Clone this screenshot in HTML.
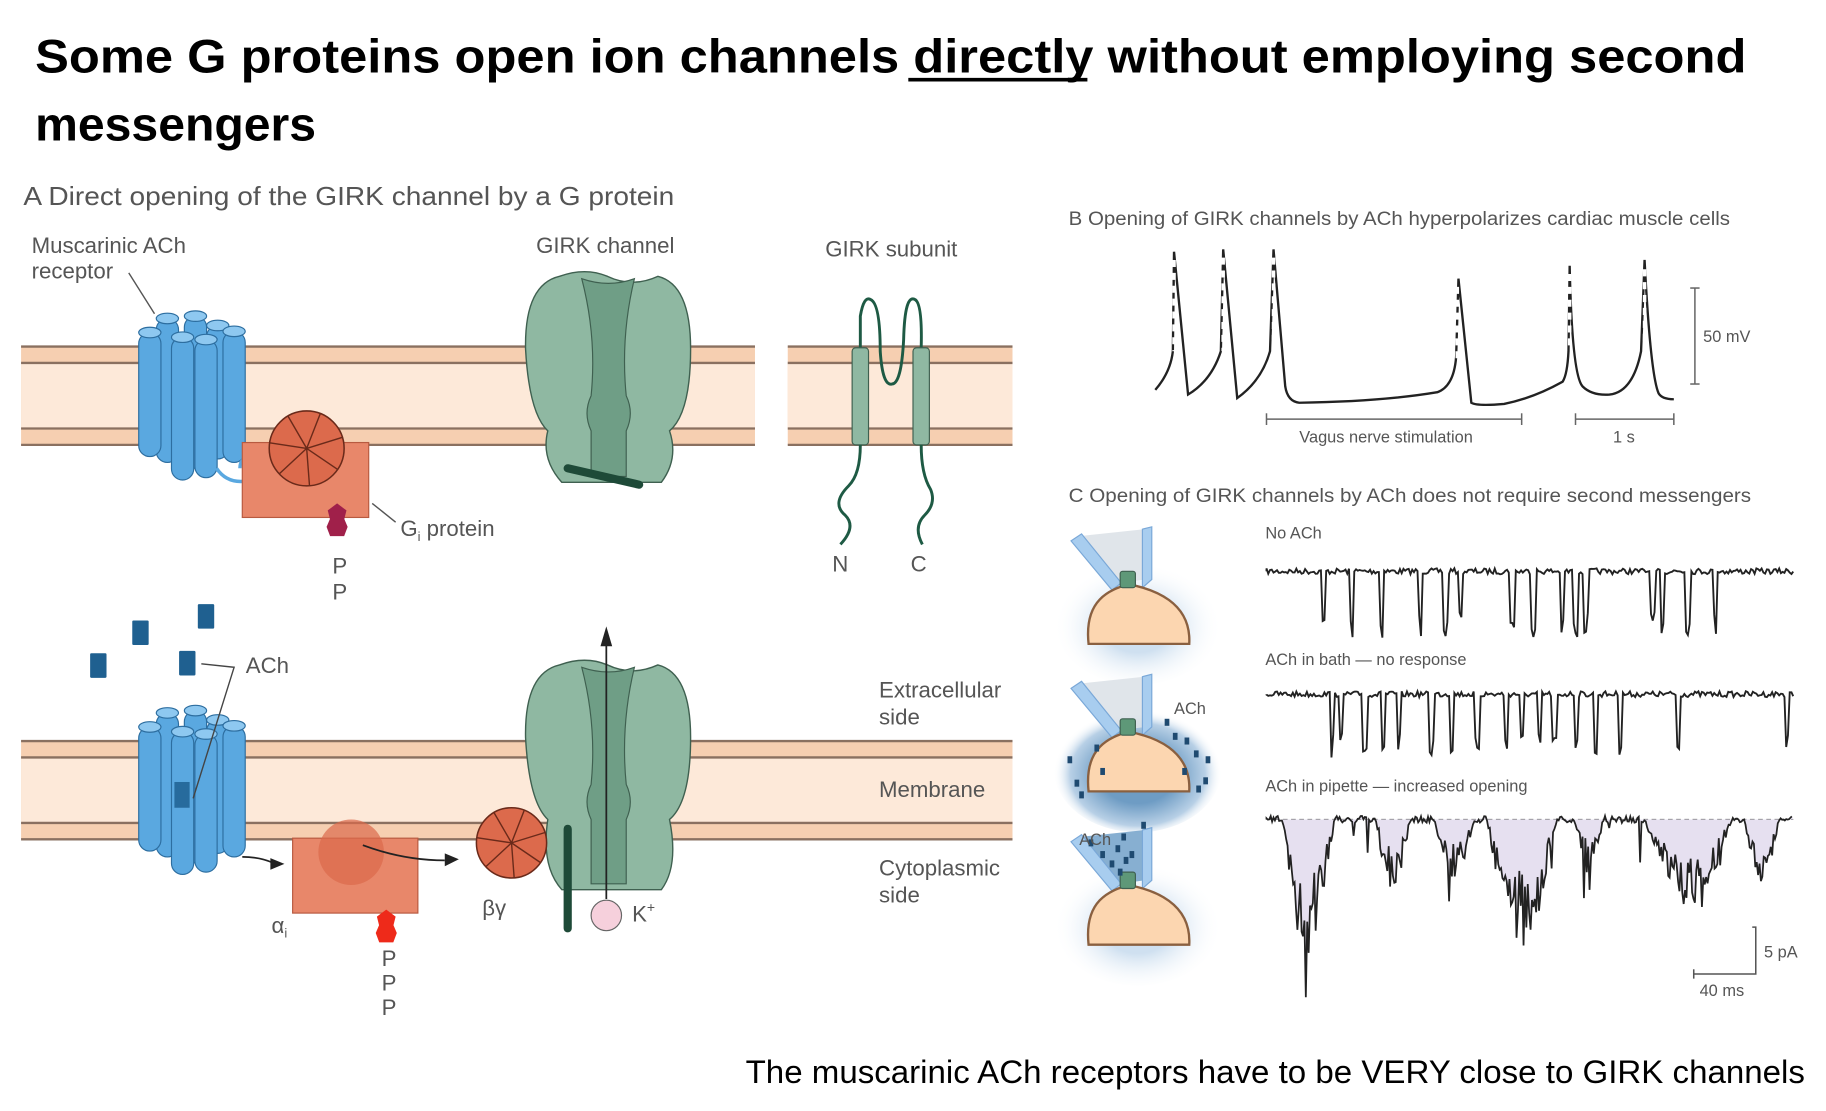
<!DOCTYPE html>
<html><head><meta charset="utf-8"><style>
html,body{margin:0;padding:0;background:#fff;}
svg{display:block;}
.t{font-family:"Liberation Sans",sans-serif;fill:#555;}
</style></head><body>
<svg id="s" width="1826" height="1111" viewBox="0 0 1560 949" xmlns="http://www.w3.org/2000/svg">
<defs>
<radialGradient id="halo" cx="50%" cy="55%" r="50%"><stop offset="0.4" stop-color="#cfe0f0"/><stop offset="1" stop-color="#ffffff" stop-opacity="0"/></radialGradient>
<radialGradient id="halo2" cx="50%" cy="55%" r="50%"><stop offset="0.45" stop-color="#6e9cc4"/><stop offset="0.8" stop-color="#b8d0e6"/><stop offset="1" stop-color="#ffffff" stop-opacity="0"/></radialGradient>
</defs>
<text x="30" y="62" font-family="Liberation Sans,sans-serif" font-weight="bold" font-size="40" fill="#000" textLength="1462" lengthAdjust="spacingAndGlyphs">Some G proteins open ion channels directly without employing second</text>
<line x1="776" y1="68" x2="929" y2="68" stroke="#000" stroke-width="3"/>
<text x="30" y="120" font-family="Liberation Sans,sans-serif" font-weight="bold" font-size="40" fill="#000" textLength="240" lengthAdjust="spacingAndGlyphs">messengers</text>

<text class="t" x="20" y="175" font-size="22" textLength="556" lengthAdjust="spacingAndGlyphs">A  Direct opening of the GIRK channel by a G protein</text>

<g id="mem"></g>
<g id="art"></g>

<g class="t" font-size="19">
<text x="27" y="216">Muscarinic ACh</text>
<text x="27" y="238">receptor</text>
<text x="458" y="216">GIRK channel</text>
<text x="705" y="219">GIRK subunit</text>
<text x="342" y="458">G<tspan font-size="11" dy="4">i</tspan><tspan dy="-4"> protein</tspan></text>
<text x="284" y="490">P</text><text x="284" y="512">P</text>
<text x="711" y="488">N</text><text x="778" y="488">C</text>
<text x="210" y="575">ACh</text>
<text x="751" y="596">Extracellular</text><text x="751" y="619">side</text>
<text x="751" y="681">Membrane</text>
<text x="751" y="748">Cytoplasmic</text><text x="751" y="771">side</text>
<text x="232" y="797">α<tspan font-size="11" dy="4">i</tspan></text>
<text x="412" y="782">βγ</text>
<text x="540" y="787">K<tspan font-size="12" dy="-8">+</tspan></text>
<text x="326" y="825">P</text><text x="326" y="846">P</text><text x="326" y="867">P</text>
</g>
<line x1="110" y1="233" x2="132" y2="268" stroke="#555" stroke-width="1.2"/>
<line x1="318" y1="430" x2="338" y2="446" stroke="#555" stroke-width="1.2"/>
<polyline points="172,567 200,570 165,682" fill="none" stroke="#444" stroke-width="1.2"/>

<text class="t" x="913" y="192" font-size="16.5" textLength="565" lengthAdjust="spacingAndGlyphs">B  Opening of GIRK channels by ACh hyperpolarizes cardiac muscle cells</text>
<path d="M987,333 Q1000,318 1002,300 L1003,215 L1015,337 Q1035,325 1043,300 L1045,213 L1057,340 Q1078,325 1085,300 L1088,213 L1098,330 Q1100,343 1110,344 Q1180,343 1228,335 Q1242,330 1244,305 L1246,238 L1257,344 Q1262,347 1285,345 Q1310,340 1335,326 Q1339,320 1340,300 L1341,227 Q1343,320 1352,330 Q1360,338 1375,337 Q1395,335 1402,300 L1405,222 Q1410,320 1417,336 Q1420,341 1430,341" fill="none" stroke="#222" stroke-width="2"/>
<g stroke="#fff" stroke-width="3" stroke-dasharray="6 5">
<line x1="1003" y1="222" x2="1003" y2="300"/><line x1="1045" y1="220" x2="1045" y2="300"/><line x1="1088" y1="220" x2="1088" y2="290"/><line x1="1245" y1="245" x2="1245" y2="310"/><line x1="1341" y1="234" x2="1341" y2="300"/><line x1="1405" y1="230" x2="1405" y2="300"/>
</g>
<g stroke="#666" stroke-width="1.3">
<line x1="1448" y1="246" x2="1448" y2="328"/><line x1="1444" y1="246" x2="1452" y2="246"/><line x1="1444" y1="328" x2="1452" y2="328"/>
<line x1="1082" y1="358" x2="1300" y2="358"/><line x1="1082" y1="353" x2="1082" y2="363"/><line x1="1300" y1="353" x2="1300" y2="363"/>
<line x1="1346" y1="358" x2="1430" y2="358"/><line x1="1346" y1="353" x2="1346" y2="363"/><line x1="1430" y1="353" x2="1430" y2="363"/>
</g>
<g class="t" font-size="14">
<text x="1455" y="292">50 mV</text>
<text x="1110" y="378">Vagus nerve stimulation</text>
<text x="1378" y="378">1 s</text>
</g>

<text class="t" x="913" y="429" font-size="16.5" textLength="583" lengthAdjust="spacingAndGlyphs">C  Opening of GIRK channels by ACh does not require second messengers</text>
<g id="cells"></g>
<g class="t" font-size="14">
<text x="1081" y="460">No ACh</text>
<text x="1081" y="568">ACh in bath — no response</text>
<text x="1081" y="676">ACh in pipette — increased opening</text>
<text x="1003" y="610">ACh</text>
<text x="922" y="722">ACh</text>
<text x="1507" y="818">5 pA</text>
<text x="1452" y="851">40 ms</text>
</g>
<g stroke="#555" stroke-width="1.3" fill="none"><polyline points="1497,792 1500,792 1500,832 1447,832"/><line x1="1447" y1="828" x2="1447" y2="836"/></g>
<g id="traces"></g>

<text x="637" y="925" font-family="Liberation Sans,sans-serif" font-size="28" fill="#000" textLength="905" lengthAdjust="spacingAndGlyphs">The muscarinic ACh receptors have to be VERY close to GIRK channels</text>
</svg>
<script>
var NS="http://www.w3.org/2000/svg";
function el(p,t,a){var e=document.createElementNS(NS,t);for(var k in a)e.setAttribute(k,a[k]);document.getElementById(p).appendChild(e);return e;}
function mem(x1,x2,y){
 el('mem','rect',{x:x1,y:y,width:x2-x1,height:84,fill:'#f6cfb1'});
 el('mem','rect',{x:x1,y:y+14,width:x2-x1,height:56,fill:'#fde9d9'});
 [y,y+14,y+70,y+84].forEach(function(yy){el('mem','line',{x1:x1,x2:x2,y1:yy,y2:yy,stroke:'#8a7060','stroke-width':2});});
}
mem(18,645,296);mem(673,865,296);mem(18,865,633);
var A='art';
function cyl(x,yt,yb,w){
 el(A,'rect',{x:x-w/2,y:yt,width:w,height:yb-yt,rx:w/2,fill:'#5aa8e0',stroke:'#2d6ea0','stroke-width':1});
 el(A,'ellipse',{cx:x,cy:yt,rx:w/2,ry:4.5,fill:'#8ec8f0',stroke:'#2d6ea0','stroke-width':1});
}
function receptor(dy){
 [[143,272,395],[167,270,400],[186,278,392],[128,284,390],[200,283,395],[156,288,410],[176,290,408]].forEach(function(c){cyl(c[0],c[1]+dy,c[2]+dy,19);});
}
receptor(0);
el(A,'path',{d:'M185,400 Q195,415 215,410 Q230,400 215,392 Q205,390 205,400',fill:'none',stroke:'#5aa8e0','stroke-width':3});
el(A,'rect',{x:207,y:378,width:108,height:64,fill:'#e8876a',stroke:'#b85a40','stroke-width':1});
function wheel(cx,cy,r){
 el(A,'circle',{cx:cx,cy:cy,r:r,fill:'#dc6a4c',stroke:'#6a2a1a','stroke-width':1.3});
 for(var i=0;i<7;i++){var a=i*2*Math.PI/7-0.3;el(A,'line',{x1:cx,y1:cy,x2:cx+r*Math.cos(a),y2:cy+r*Math.sin(a),stroke:'#6a2a1a','stroke-width':1.2});}
}
wheel(262,383,32);
function hexs(cx,y,col){
 el(A,'polygon',{points:[cx,y,cx+8,y+6,cx+6,y+14,cx-6,y+14,cx-8,y+6].join(','),fill:col});
 el(A,'polygon',{points:[cx-6,y+13,cx+6,y+13,cx+9,y+20,cx+6,y+28,cx-6,y+28,cx-9,y+20].join(','),fill:col});
}
hexs(288,430,'#a0204a');
function girk(dy,h){
 var b=228+dy, e=b+h;
 el(A,'path',{d:'M478,'+(b+8)+' Q448,'+(b+15)+' 449,'+(b+70)+' Q452,'+(b+125)+' 468,'+(b+140)+' Q462,'+(e-20)+' 480,'+e+' L565,'+e+' Q580,'+(e-20)+' 572,'+(b+140)+' Q590,'+(b+125)+' 590,'+(b+70)+' Q590,'+(b+15)+' 562,'+(b+8)+' Q540,'+(b+18)+' 519,'+(b+8)+' Q500,'+(b)+' 478,'+(b+8)+'Z',fill:'#8fb8a2',stroke:'#3f6050','stroke-width':1.2});
 el(A,'path',{d:'M497,'+(b+10)+' Q510,'+(b+60)+' 505,'+(b+110)+' Q498,'+(b+125)+' 505,'+(b+140)+' L505,'+(e-5)+' L535,'+(e-5)+' L535,'+(b+140)+' Q542,'+(b+125)+' 535,'+(b+110)+' Q530,'+(b+60)+' 542,'+(b+10)+' Q520,'+(b+18)+' 497,'+(b+10)+'Z',fill:'#6f9e86',stroke:'#3f6050','stroke-width':1});
}
girk(0,184);
el(A,'line',{x1:485,y1:400,x2:546,y2:414,stroke:'#1e4a38','stroke-width':7,'stroke-linecap':'round'});
girk(332,200);
el(A,'path',{d:'M735,297 L735,270 Q738,252 744,256 Q752,260 752,300 Q754,330 762,328 Q770,328 772,290 Q773,250 782,256 Q788,260 787,297',fill:'none',stroke:'#1e5a44','stroke-width':2.5});
el(A,'rect',{x:728,y:297,width:14,height:83,rx:3,fill:'#8fb8a2',stroke:'#3f6050'});
el(A,'rect',{x:780,y:297,width:14,height:83,rx:3,fill:'#8fb8a2',stroke:'#3f6050'});
el(A,'path',{d:'M735,380 Q735,405 725,415 Q710,430 722,440 Q732,450 718,465',fill:'none',stroke:'#1e5a44','stroke-width':2.5});
el(A,'path',{d:'M787,380 Q787,405 795,418 Q800,430 790,440 Q780,450 788,465',fill:'none',stroke:'#1e5a44','stroke-width':2.5});
[[120,540],[176,526],[84,568],[160,566]].forEach(function(p){el(A,'rect',{x:p[0]-7,y:p[1]-10,width:14,height:21,rx:1,fill:'#1f6090'});});
receptor(337);
el(A,'rect',{x:149,y:668,width:13,height:22,fill:'#1f6090',opacity:0.85});
el(A,'rect',{x:250,y:716,width:107,height:64,fill:'#e8876a',stroke:'#b85a40','stroke-width':1});
el(A,'circle',{cx:300,cy:728,r:28,fill:'#dc6a4c',opacity:0.7});
hexs(330,777,'#ee2a1a');
wheel(437,720,30);
el(A,'path',{d:'M207,732 Q222,732 233,737',fill:'none',stroke:'#222','stroke-width':1.5});
el(A,'polygon',{points:'243,738 231,733 231,743',fill:'#222'});
el(A,'path',{d:'M310,722 Q345,735 380,735',fill:'none',stroke:'#222','stroke-width':1.5});
el(A,'polygon',{points:'392,734 380,729 380,740',fill:'#222'});
el(A,'line',{x1:485,y1:708,x2:485,y2:793,stroke:'#1e4a38','stroke-width':7,'stroke-linecap':'round'});
el(A,'line',{x1:518,y1:768,x2:518,y2:548,stroke:'#222','stroke-width':1.5});
el(A,'polygon',{points:'518,535 513,552 523,552',fill:'#222'});
el(A,'circle',{cx:518,cy:782,r:13,fill:'#f6d0dc',stroke:'#666'});
function cell(y,mode){
 var C='cells';
 el(C,'ellipse',{cx:972,cy:y+30,rx:72,ry:55,fill:mode==2?'url(#halo2)':'url(#halo)'});
 el(C,'polygon',{points:[922,y-42,978,y-48,978,y-5,956,y-2].join(','),fill:mode==3?'#7aa6cc':'#dde2e8',opacity:0.9});
 el(C,'polygon',{points:[915,y-38,924,y-44,958,y-2,950,y+4].join(','),fill:'#a8cdef',stroke:'#7aa8d8'});
 el(C,'polygon',{points:[976,y-48,984,y-50,984,y-5,976,y+2].join(','),fill:'#a8cdef',stroke:'#7aa8d8'});
 el(C,'path',{d:'M930,'+(y+50)+' C926,'+(y+12)+' 948,'+(y+4)+' 964,'+(y-1)+' C985,'+(y+3)+' 1018,'+(y+14)+' 1016,'+(y+50)+'Z',fill:'#fcd6b0',stroke:'#8a6040','stroke-width':2});
 el(C,'rect',{x:957,y:y-12,width:13,height:14,rx:2,fill:'#5e9878',stroke:'#3f6050'});
 if(mode==2){[[912,y+20],[935,y+10],[918,y+40],[940,y+30],[995,y-12],[1002,y],[1012,y+4],[1020,y+15],[1030,y+20],[1028,y+38],[1010,y+30],[922,y+50],[1022,y+45]].forEach(function(p){el(C,'rect',{x:p[0],y:p[1],width:4,height:6,fill:'#1f4a70'});});}
 if(mode==3){[[930,y-40],[940,y-30],[953,y-35],[958,y-45],[948,y-22],[960,y-25],[955,y-15],[965,y-30],[975,y-55]].forEach(function(p){el(C,'rect',{x:p[0],y:p[1],width:4,height:6,fill:'#1f4a70'});});}
}
cell(500,1);cell(626,2);cell(757,3);
var seed=7;function rnd(){seed=(seed*16807)%2147483647;return seed/2147483647;}
function trace(y0,n,depth,spikes){
 var d='M1082,'+y0, x;
 for(x=1082;x<=1532;x+=1.5){
  var y=y0+(rnd()-0.5)*5;
  for(var i=0;i<spikes.length;i++){if(Math.abs(x-spikes[i])<1.6){y=y0+depth*(0.6+0.4*rnd());}}
  d+=' L'+x.toFixed(1)+','+y.toFixed(1);
 }
 el('traces','path',{d:d,fill:'none',stroke:'#222','stroke-width':1.6});
}
trace(488,0,58,[1131,1180,1248,1292,1310,1335,1346,1355,1412,1420,1442,1465,1155,1213,1235]);
trace(593,0,55,[1138,1146,1166,1195,1223,1262,1287,1300,1315,1328,1347,1384,1434,1527,1182,1240,1363]);
el('traces','line',{x1:1082,y1:700,x2:1532,y2:700,stroke:'#666','stroke-width':1,'stroke-dasharray':'4 3'});
var bursts=[[1095,1140,120],[1175,1205,60],[1225,1260,50],[1270,1330,110],[1345,1370,40],[1405,1480,75],[1490,1520,55]];
var d='M1082,700';
for(var x=1082;x<=1532;x+=1.2){
 var y=700+(rnd()-0.5)*6;
 for(var i=0;i<bursts.length;i++){var b=bursts[i];if(x>b[0]&&x<b[1]){var f=Math.sin(Math.PI*(x-b[0])/(b[1]-b[0]));y=700+b[2]*f*(0.4+0.6*rnd());}}
 if(rnd()<0.03)y+=40*rnd();
 d+=' L'+x.toFixed(1)+','+y.toFixed(1);
}
el('traces','path',{d:d+' L1532,700 Z',fill:'#e6e0f0',stroke:'none'});
el('traces','path',{d:d,fill:'none',stroke:'#222','stroke-width':1.5});
</script>
</body></html>
